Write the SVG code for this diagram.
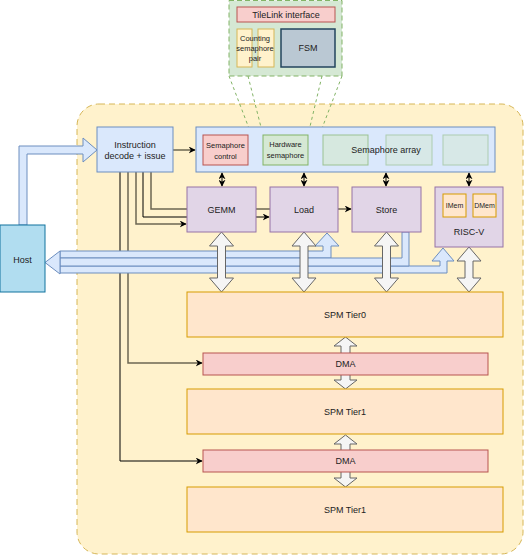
<svg xmlns="http://www.w3.org/2000/svg" width="527" height="556" viewBox="0 0 527 556">
<style>
text{font-family:"Liberation Sans",Arial,sans-serif;font-size:9px;fill:#222;text-anchor:middle}
.s{font-size:7.5px}
.blue{fill:#dae8fc;stroke:#6c8ebf;stroke-width:1}
.red{fill:#f8cecc;stroke:#b85450;stroke-width:1}
.grn{fill:#d5e8d4;stroke:#82b366;stroke-width:1}
.yel{fill:#fff2cc;stroke:#d6b656;stroke-width:1}
.pur{fill:#e1d5e7;stroke:#9673a6;stroke-width:1}
.org{fill:#ffe6cc;stroke:#d79b00;stroke-width:1}
.gray{fill:#f5f5f5;stroke:#666;stroke-width:1}
.ln{fill:none;stroke:#000;stroke-width:1}
.lg{fill:none;stroke:#6d6752;stroke-width:1.5}
.dg{fill:none;stroke:#82b366;stroke-width:1;stroke-dasharray:3 3}
</style>
<defs>
<marker id="ah" viewBox="0 0 10 10" refX="9" refY="5" markerWidth="7" markerHeight="7" markerUnits="userSpaceOnUse" orient="auto-start-reverse">
<path d="M0,0 L10,5 L0,10 L3,5 Z" fill="#000"/>
</marker>
</defs>

<g id="container">
<rect x="77" y="104" width="446" height="450" rx="22" fill="#fff2cc" stroke="#d6b656" stroke-dasharray="6 4"/>
</g>

<g id="tilelink-detail">
<rect x="229" y="0.5" width="113" height="75.5" fill="#d5e8d4" stroke="#82b366" stroke-dasharray="5 3"/>
<rect class="red" x="237" y="7" width="98" height="15"/>
<text x="286" y="18">TileLink interface</text>
<rect class="yel" x="237" y="29" width="15" height="38"/>
<rect class="yel" x="258" y="29" width="16" height="38"/>
<text class="s" x="255" y="41">Counting</text>
<text class="s" x="255" y="51">semaphore</text>
<text class="s" x="255" y="61">pair</text>
<rect x="281" y="29" width="54" height="38" fill="#bac8d3" stroke="#23445d" stroke-width="1.5"/>
<text x="308" y="51">FSM</text>
</g>

<g id="connectors">
<path class="dg" d="M229,76 L263,165"/>
<path class="dg" d="M248,76 L263,135"/>
<path class="dg" d="M342,76 L308,165"/>
<path class="dg" d="M322,76 L308,135"/>
<path class="lg" d="M173,150 H195" marker-end="url(#ah)"/>
<path class="lg" d="M151,172 V209 H351" marker-end="url(#ah)"/>
<path class="ln" d="M143,172 V217 H269" marker-end="url(#ah)"/>
<path class="lg" d="M136,172 V224 H186" marker-end="url(#ah)"/>
<path class="lg" d="M128,172 V363 H202" marker-end="url(#ah)"/>
<path class="ln" d="M120,172 V461 H202" marker-end="url(#ah)"/>
<path class="ln" stroke-width="1.5" d="M222,173 V186" marker-start="url(#ah)" marker-end="url(#ah)"/>
<path class="ln" stroke-width="1.5" d="M304,173 V186" marker-start="url(#ah)" marker-end="url(#ah)"/>
<path class="ln" stroke-width="1.5" d="M386,173 V186" marker-start="url(#ah)" marker-end="url(#ah)"/>
<path class="ln" stroke-width="1.5" d="M469,173 V186" marker-start="url(#ah)" marker-end="url(#ah)"/>
<!-- Host to decode flex arrow -->
<path class="blue" d="M19,225 V146 H83 V138 L97,150 L83,162 V154 H27 V225 Z"/>
<!-- flex arrows to Host -->
<path class="blue" d="M60,251 H323 V246 H315 L327,233 L339,246 H331 V258 H60 Z"/>
<path class="blue" d="M60,266 H440 V261 H432 L443,248 L454,261 H447 V273 H60 Z"/>
<path class="blue" d="M60,258 H402 V232 H409 V266 H60 Z"/>
<path class="blue" d="M60,251 L45,262.5 L60,274 Z"/>
<!-- gray double arrows -->
<path class="gray" d="M221.5,232 L233.5,246 H225.5 V278 H233.5 L221.5,292 L209.5,278 H217.5 V246 H209.5 Z"/>
<path class="gray" d="M304,232 L316,246 H308 V278 H316 L304,292 L292,278 H300 V246 H292 Z"/>
<path class="gray" d="M386.5,232 L398.5,246 H390.5 V278 H398.5 L386.5,292 L374.5,278 H382.5 V246 H374.5 Z"/>
<path class="gray" d="M469,247 L481,261 H473 V278 H481 L469,292 L457,278 H465 V261 H457 Z"/>
<path class="gray" d="M345.5,337 L357,346 H350 V380 H357 L345.5,389 L334,380 H341 V346 H334 Z"/>
<path class="gray" d="M345.5,435 L357,444 H350 V478 H357 L345.5,487 L334,478 H341 V444 H334 Z"/>
</g>

<g id="host">
<rect x="0" y="225" width="45" height="67" fill="#b1ddf0" stroke="#10739e"/>
<text x="22.5" y="263">Host</text>
</g>

<g id="decode">
<rect class="blue" x="97" y="127" width="76" height="45"/>
<text x="135" y="148">Instruction</text>
<text x="135" y="159">decode + issue</text>
</g>

<g id="semaphore-array">
<rect class="blue" x="196" y="127" width="299" height="45"/>
<rect class="red" x="203" y="135" width="45" height="30"/>
<text class="s" x="225.5" y="147.5">Semaphore</text>
<text class="s" x="225.5" y="158.5">control</text>
<rect class="grn" x="263" y="135" width="45" height="30"/>
<text class="s" x="285.5" y="147">Hardware</text>
<text class="s" x="285.5" y="158">semaphore</text>
<rect class="grn" x="323" y="135" width="45" height="30" opacity="0.7"/>
<rect class="grn" x="386" y="135" width="46" height="30" opacity="0.5"/>
<rect class="grn" x="443" y="135" width="45" height="30" opacity="0.5"/>
<text x="386" y="153">Semaphore array</text>
</g>

<g id="gemm">
<rect class="pur" x="187" y="187" width="69" height="45"/>
<text x="221.5" y="213">GEMM</text>
</g>
<g id="load">
<rect class="pur" x="270" y="187" width="68" height="45"/>
<text x="304" y="213">Load</text>
</g>
<g id="store">
<rect class="pur" x="352" y="187" width="69" height="45"/>
<text x="386.5" y="213">Store</text>
</g>
<g id="riscv">
<rect class="pur" x="435" y="187" width="68" height="60"/>
<rect class="org" x="443" y="194" width="23" height="23"/>
<text class="s" x="454.5" y="208" style="font-size:7px">IMem</text>
<rect class="org" x="473" y="194" width="23" height="23"/>
<text class="s" x="484.5" y="208" style="font-size:7px">DMem</text>
<text x="469" y="235">RISC-V</text>
</g>

<g id="spm0">
<rect class="org" x="187" y="292" width="316" height="45"/>
<text x="345" y="318">SPM Tier0</text>
</g>
<g id="dma1">
<rect class="red" x="203" y="353" width="285" height="22"/>
<text x="345.5" y="367">DMA</text>
</g>
<g id="spm1">
<rect class="org" x="187" y="389" width="316" height="45"/>
<text x="345" y="414.5">SPM Tier1</text>
</g>
<g id="dma2">
<rect class="red" x="203" y="450" width="285" height="22"/>
<text x="345.5" y="464">DMA</text>
</g>
<g id="spm2">
<rect class="org" x="187" y="487" width="316" height="45"/>
<text x="345" y="512.5">SPM Tier1</text>
</g>
</svg>
